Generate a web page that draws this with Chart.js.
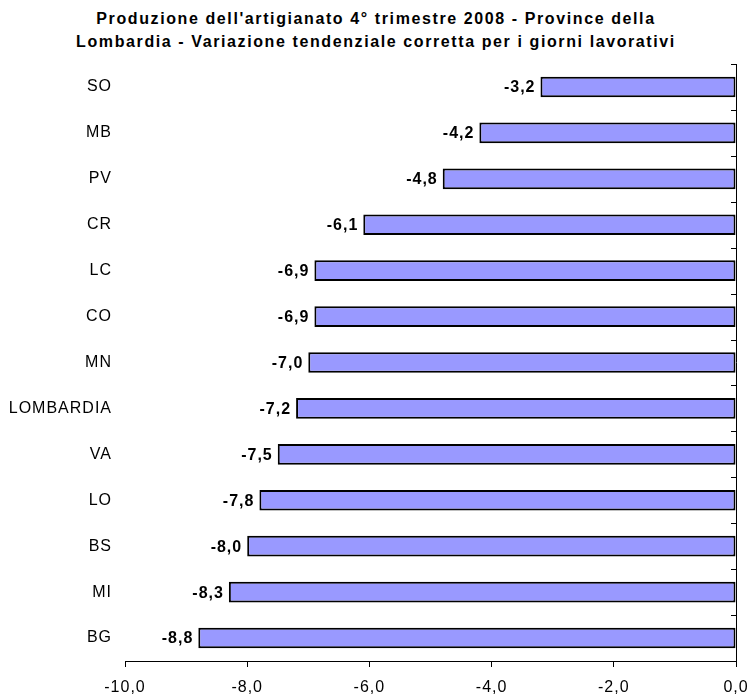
<!DOCTYPE html>
<html>
<head>
<meta charset="utf-8">
<script src="https://cdn.jsdelivr.net/npm/chart.js@4/dist/chart.umd.min.js"></script>
<style>
  html, body { margin: 0; padding: 0; background: #fff; overflow: hidden; }
  #titolo {
    width: 752px; height: 56px; box-sizing: border-box; padding-top: 7px;
    font: bold 16px/23px "Liberation Sans", Arial, sans-serif;
    letter-spacing: 1.6px; text-align: center; color: #000;
  }
  #chart { display: block; }
</style>
</head>
<body>
<div id="titolo"></div>
<canvas id="chart" width="752" height="641"></canvas>
<script>
// province e variazione tendenziale (%)
const province = ["SO", "MB", "PV", "CR", "LC", "CO", "MN", "LOMBARDIA", "VA", "LO", "BS", "MI", "BG"];
const variazione = [-3.2, -4.2, -4.8, -6.1, -6.9, -6.9, -7.0, -7.2, -7.5, -7.8, -8.0, -8.3, -8.8];
const titolo = [
  "Produzione dell'artigianato 4° trimestre 2008 - Province della",
  "Lombardia - Variazione tendenziale corretta per i giorni lavorativi"
];

document.getElementById("titolo").innerHTML = titolo.join("<br>");

const fmt = v => v.toFixed(1).replace(".", ",");
const fontFamily = "'Liberation Sans', Arial, sans-serif";

// testo un po' spaziato su tutto il canvas
const spacing = {
  id: "spacing",
  beforeUpdate(chart) { chart.ctx.letterSpacing = "1px"; },
  beforeDraw(chart) { chart.ctx.letterSpacing = "1px"; }
};

// etichette dei valori a sinistra di ogni barra + asse verticale sullo zero
const valueLabels = {
  id: "valueLabels",
  afterDatasetsDraw(chart) {
    const ctx = chart.ctx;
    const meta = chart.getDatasetMeta(0);
    const xs = chart.scales.x, ys = chart.scales.y;
    const x0 = Math.round(xs.getPixelForValue(0));
    ctx.save();
    ctx.strokeStyle = "#000";
    ctx.lineWidth = 1;
    ctx.beginPath();
    ctx.moveTo(x0 + 0.5, ys.top);
    ctx.lineTo(x0 + 0.5, ys.bottom);
    for (let i = 0; i <= province.length; i++) {
      const y = Math.round(ys.getPixelForValue(i - 0.5)) + 0.5;
      ctx.moveTo(x0 - 5, y);
      ctx.lineTo(x0 + 1, y);
    }
    ctx.stroke();

    ctx.font = "bold 16px " + fontFamily;
    ctx.fillStyle = "#000";
    ctx.textAlign = "right";
    ctx.textBaseline = "middle";
    meta.data.forEach((bar, i) => {
      ctx.fillText(fmt(variazione[i]), bar.x - 5, bar.y + 1);
    });
    ctx.restore();
  }
};

new Chart(document.getElementById("chart"), {
  type: "bar",
  data: {
    labels: province,
    datasets: [{
      data: variazione,
      backgroundColor: "#9999FF",
      borderColor: "#000",
      borderWidth: 2,
      borderSkipped: false,
      categoryPercentage: 1,
      barPercentage: 0.45
    }]
  },
  options: {
    indexAxis: "y",
    responsive: false,
    animation: false,
    layout: { padding: { left: 5, right: 16, top: 8, bottom: 0 } },
    plugins: {
      legend: { display: false },
      tooltip: { enabled: false },
      title: { display: false }
    },
    scales: {
      x: {
        min: -10,
        max: 0,
        ticks: {
          stepSize: 2,
          color: "#000",
          padding: 11,
          font: { family: fontFamily, size: 16 },
          callback: v => fmt(v)
        },
        grid: { drawOnChartArea: false, drawTicks: true, tickLength: 6, color: "#000" },
        border: { display: true, color: "#000", width: 1 },
        afterFit(scale) {
          // niente margini extra per le etichette estreme
          scale.paddingLeft = 0;
          scale.paddingRight = 0;
          scale.height = 36;
        }
      },
      y: {
        position: "left",
        ticks: {
          color: "#000",
          padding: 13,
          font: { family: fontFamily, size: 16 }
        },
        grid: { display: false, drawTicks: false },
        border: { display: false },
        afterFit(scale) {
          scale.paddingTop = 0;
          scale.paddingBottom = 0;
          scale.width = 120;
        }
      }
    }
  },
  plugins: [spacing, valueLabels]
});
</script>
</body>
</html>
